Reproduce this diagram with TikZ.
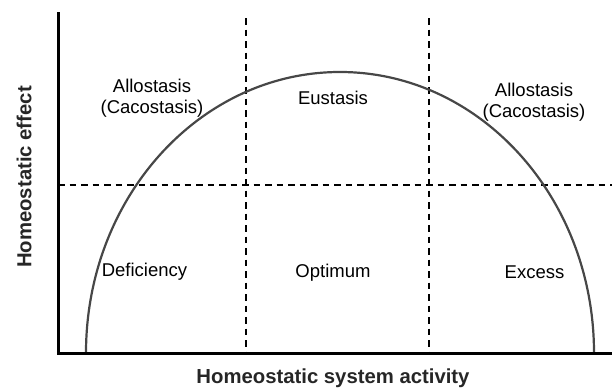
\documentclass[tikz,border=0pt]{standalone}
\usepackage{fontspec}
\setmainfont{Liberation Sans}
\begin{document}
\begin{tikzpicture}[x=1pt,y=-1pt,
  lbl/.style={font=\fontsize{18.5pt}{21pt}\selectfont, inner sep=0pt, align=center, text=black},
  axlbl/.style={font=\bfseries\fontsize{20.3pt}{23pt}\selectfont, inner sep=0pt, text=black!85},
  axisline/.style={line width=3pt, black},
  guide/.style={line width=1.3pt, black, dash pattern=on 6.5pt off 5pt},
  curve/.style={line width=2.2pt, black!72}]
\useasboundingbox (0,0) rectangle (612,388);
% coordinates
\coordinate (ytop) at (58,12);
\coordinate (orig) at (58,353);
\coordinate (xend) at (612,353);
\coordinate (v1t) at (246,18);
\coordinate (v1b) at (246,353);
\coordinate (v2t) at (429,18);
\coordinate (v2b) at (429,353);
\coordinate (hl) at (58,185);
\coordinate (hr) at (612,185);
\coordinate (footL) at (86,353);
% guides
\draw[guide] (v1t) -- (v1b);
\draw[guide] (v2t) -- (v2b);
\draw[guide] (hl) -- (hr);
% curve
\draw[curve] (footL) arc[start angle=180, end angle=0, x radius=254pt, y radius=281pt];
% axes
\draw[axisline] (ytop) -- (orig) -- (xend);
% labels
\node[lbl] (al1) at (152,98) {Allostasis\\[0pt](Cacostasis)};
\node[lbl] (eu) at (333,98) {Eustasis};
\node[lbl] (al2) at (534,102) {Allostasis\\[0pt](Cacostasis)};
\node[lbl] (def) at (144.5,272) {Deficiency};
\node[lbl] (opt) at (333,273) {Optimum};
\node[lbl] (exc) at (534.5,272) {Excess};
\node[axlbl] (xl) at (333,378) {Homeostatic system activity};
\node[axlbl, rotate=90] (yl) at (24,177) {Homeostatic effect};
\end{tikzpicture}
\end{document}
